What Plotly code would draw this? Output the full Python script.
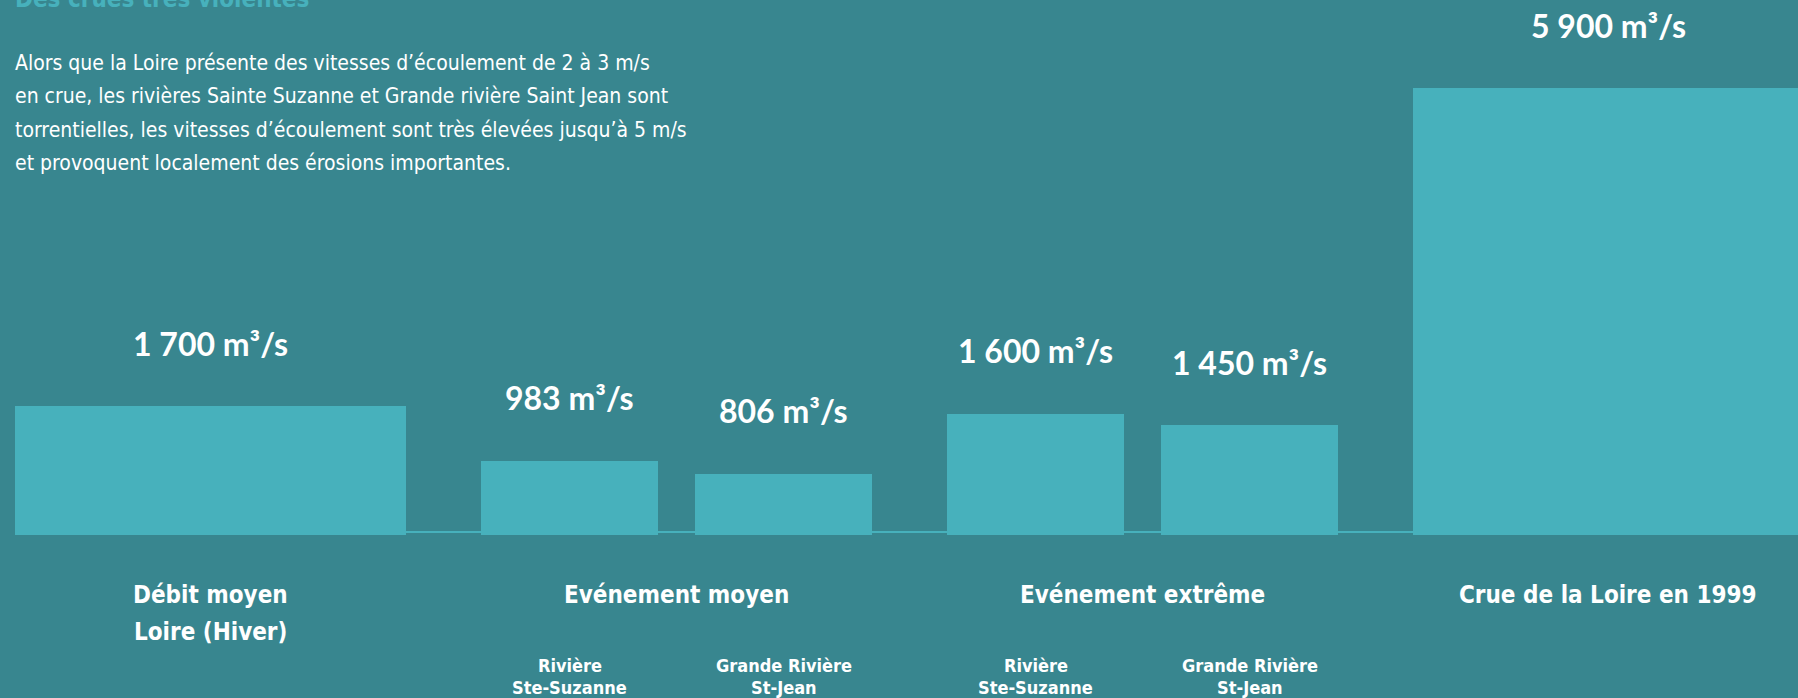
import plotly.graph_objects as go

# ---- data ----
values = [1700, 983, 806, 1600, 1450, 5900]
value_labels = ["1 700 m³/s", "983 m³/s", "806 m³/s", "1 600 m³/s", "1 450 m³/s", "5 900 m³/s"]
sub_labels = [None, ["Rivière", "Ste-Suzanne"], ["Grande Rivière", "St-Jean"],
              ["Rivière", "Ste-Suzanne"], ["Grande Rivière", "St-Jean"], None]
group_of_bar = [0, 1, 1, 2, 2, 3]
group_labels = [["Débit moyen", "Loire (Hiver)"], ["Evénement moyen"],
                ["Evénement extrême"], ["Crue de la Loire en 1999"]]
title_text = "Des crues très violentes"
paragraph = [
    "Alors que la Loire présente des vitesses d’écoulement de 2 à 3 m/s",
    "en crue, les rivières Sainte Suzanne et Grande rivière Saint Jean sont",
    "torrentielles, les vitesses d’écoulement sont très élevées jusqu’à 5 m/s",
    "et provoquent localement des érosions importantes.",
]

# ---- layout (pixel-based geometry) ----
W, H = 1798, 698
BG = "#38868f"
BAR = "#47b1bc"
widths = [391, 177, 177, 177, 177, 390]
left_pad = 15
gap_between = 75
gap_within = 37
base_px = 535
top_px_max = 88  # top of largest bar

centers = []
x = left_pad
for i, w in enumerate(widths):
    if i > 0:
        x += gap_within if group_of_bar[i] == group_of_bar[i - 1] else gap_between
    centers.append(x + w / 2)
    x += w

ppu = (base_px - top_px_max) / max(values)
y_top = base_px / ppu
y_bot = -(H - base_px) / ppu

fig = go.Figure()
fig.add_trace(go.Bar(x=centers, y=values, width=widths, marker=dict(color=BAR, line=dict(width=0)),
                     hoverinfo="skip", showlegend=False))

# thin baseline line
fig.add_shape(type="line", x0=left_pad, x1=W + 10, y0=3 / ppu, y1=3 / ppu,
              line=dict(color=BAR, width=2), layer="below")

FONT_TXT = "Liberation Sans Narrow, DejaVu Sans Condensed, Lato, sans-serif"
FONT_BOLD = "Lato, Roboto, sans-serif"

annotations = []
# value labels
for cx, v, t in zip(centers, values, value_labels):
    annotations.append(dict(x=cx, y=v, text=f"<b>{t}</b>", showarrow=False, yanchor="middle",
                            yshift=63, font=dict(family=FONT_BOLD, size=32, color="white")))
# group labels
for g, lines in enumerate(group_labels):
    idx = [i for i, gg in enumerate(group_of_bar) if gg == g]
    gx = (centers[idx[0]] - widths[idx[0]] / 2 + centers[idx[-1]] + widths[idx[-1]] / 2) / 2
    for k, line in enumerate(lines):
        annotations.append(dict(x=gx, y=0, text=f"<b>{line}</b>", showarrow=False, yanchor="middle",
                                yshift=-(60 + 37 * k), font=dict(family=FONT_TXT, size=24, color="white")))
# sub labels
for cx, sl in zip(centers, sub_labels):
    if sl:
        for k, line in enumerate(sl):
            annotations.append(dict(x=cx, y=0, text=f"<b>{line}</b>", showarrow=False, yanchor="middle",
                                    yshift=-(130 + 22 * k), font=dict(family=FONT_TXT, size=18, color="white")))
# title (cut at top)
annotations.append(dict(x=13 / W, y=1 - 15 / H, xref="paper", yref="paper", xanchor="left", yanchor="bottom",
                        text=f"<b>{title_text}</b>", showarrow=False,
                        font=dict(family=FONT_TXT, size=24, color=BAR)))
# paragraph
para_y = [63, 96, 130, 163]
for py, line in zip(para_y, paragraph):
    annotations.append(dict(x=13 / W, y=1 - py / H, xref="paper", yref="paper", xanchor="left",
                            yanchor="middle", text=line, showarrow=False,
                            font=dict(family=FONT_TXT, size=21, color="white")))

fig.update_layout(
    width=W, height=H, margin=dict(l=0, r=0, t=0, b=0),
    paper_bgcolor=BG, plot_bgcolor=BG,
    xaxis=dict(range=[0, W], visible=False, fixedrange=True),
    yaxis=dict(range=[y_bot, y_top], visible=False, fixedrange=True),
    annotations=annotations, bargap=0, showlegend=False,
)
fig.write_html("out.html", config={"displayModeBar": False})
